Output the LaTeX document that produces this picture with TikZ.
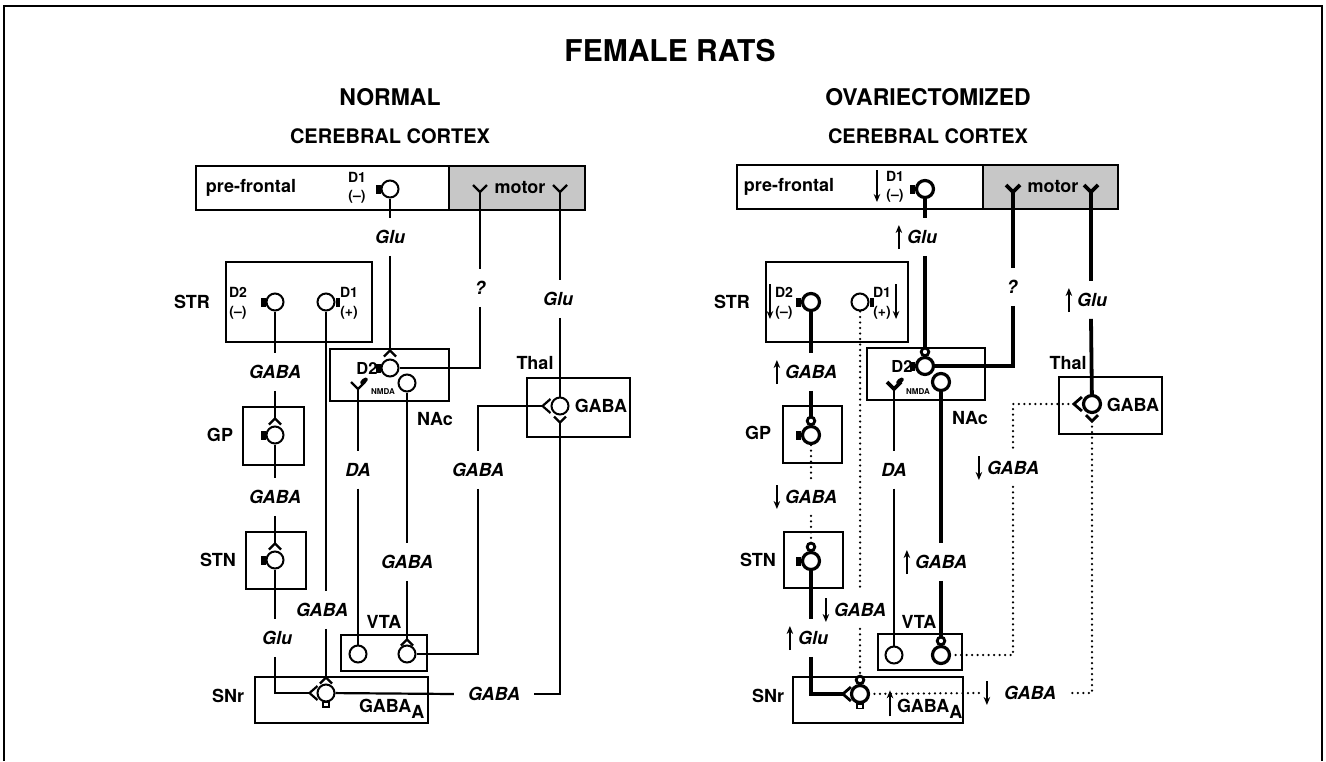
\documentclass[tikz,border=0pt]{standalone}
\usepackage{fontspec}
\setmainfont{TeX Gyre Heros}
\usetikzlibrary{arrows.meta}
% little glyphs drawn round the cell bodies
\newcommand\capl[1]{\fill ([shift={(-4.5pt,-4.5pt)}]#1.west) rectangle ([shift={(0pt,4.5pt)}]#1.west);}
\newcommand\capr[1]{\fill ([shift={(0pt,-4.5pt)}]#1.east) rectangle ([shift={(4.5pt,4.5pt)}]#1.east);}
\newcommand\tipup[2][]{\draw[#1] ([shift={(-6pt,-6pt)}]#2) -- (#2) -- ([shift={(6pt,-6pt)}]#2);}
\newcommand\tipdn[2][]{\draw[#1] ([shift={(-6pt,6pt)}]#2) -- (#2) -- ([shift={(6pt,6pt)}]#2);}
\newcommand\tipl[2][]{\draw[#1] ([shift={(8pt,7pt)}]#2) -- (#2) -- ([shift={(8pt,-7pt)}]#2);}
\newcommand\yterm[2][]{\draw[#1] ([shift={(-7pt,7pt)}]#2) -- (#2) -- ([shift={(7pt,7pt)}]#2);}
\newcommand\knob[1]{\draw[line width=2.8pt] ([yshift=4pt]#1.north) circle (3.8pt);}
\newcommand\foot[1]{\draw[line width=1.6pt] ([shift={(-3pt,0pt)}]#1.south) rectangle ([shift={(3pt,-4.5pt)}]#1.south);}
\newcommand\upmark[1]{\draw[chg] ([shift={(-6pt,-12pt)}]#1.west) -- ([shift={(-6pt,12pt)}]#1.west);}
\newcommand\dnmark[1]{\draw[chg] ([shift={(-6pt,12pt)}]#1.west) -- ([shift={(-6pt,-12pt)}]#1.west);}
\begin{document}
\begin{tikzpicture}[x=1pt,y=-1pt,line width=2.2pt,
  cell/.style={circle,draw,minimum size=17pt,inner sep=0pt,line width=2pt},
  fatcell/.style={cell,line width=3.2pt},
  fat/.style={line width=3.8pt},
  dots/.style={line width=2.5pt,line cap=round,dash pattern=on 0pt off 5.5pt},
  box/.style={draw,line width=2.2pt},
  ttl/.style={font=\fontsize{30}{34}\selectfont\bfseries},
  hd/.style={font=\fontsize{23}{26}\selectfont\bfseries},
  sub/.style={font=\fontsize{20}{22}\selectfont\bfseries},
  reg/.style={font=\fontsize{18}{20}\selectfont\bfseries,inner sep=1pt},
  rc/.style={font=\fontsize{14}{15}\selectfont\bfseries,inner sep=0pt},
  tx/.style={font=\fontsize{18}{20}\selectfont\bfseries\itshape,inner xsep=1pt,inner ysep=11pt},
  chg/.style={line width=1.8pt,-{Stealth[length=8pt,width=6.5pt]}}]
\useasboundingbox (0,0) rectangle (1326,761);
\draw[line width=1.5pt] (4,761) -- (4,6) -- (1322,6) -- (1322,761);
\node[ttl,anchor=base] (title) at (670,61) {FEMALE RATS};
\node[hd,anchor=base] (lhead) at (390,105) {NORMAL};
\node[hd,anchor=base] (rhead) at (928,105) {OVARIECTOMIZED};
\node[sub,anchor=base] (lcc) at (390,143) {CEREBRAL CORTEX};
\node[sub,anchor=base] (rcc) at (928,143) {CEREBRAL CORTEX};

%%%%%%%%%% normal
\draw[box,fill=black!22] (449,166) rectangle (585,210);
\draw[box] (196,166) rectangle (449,210);
\node[reg] (lpfl) at (251,188) {pre-frontal};
\node[reg] (lmol) at (520,188) {motor};
\node[rc] at (357,177) {D1}; \node[rc] at (357,197) {(--)};
\node[cell] (lpf) at (390,189) {}; \capl{lpf}
\coordinate (lmo1) at (480,192); \yterm{lmo1}
\coordinate (lmo2) at (560,192); \yterm{lmo2}
% STR
\draw[box] (226,262) rectangle (372,342);
\node[reg] at (192,302) {STR};
\node[rc] at (238,292) {D2}; \node[rc] at (238,313) {(--)};
\node[cell] (ld2) at (275,302) {}; \capl{ld2}
\node[cell] (ld1) at (326,302) {}; \capr{ld1}
\node[rc] at (349,292) {D1}; \node[rc] at (349,313) {(+)};
% NAc
\draw[box] (330,349) rectangle (449,401);
\node[reg] at (435,419) {NAc};
\node[reg,font=\fontsize{16.5}{18}\selectfont\bfseries] at (367,368) {D2};
\node[cell] (lnd2) at (390,368) {}; \capl{lnd2}
\coordinate (lnd2in) at ([yshift=8pt]lnd2.north); \tipup{lnd2in}
\coordinate (lnda) at (358,389); \yterm{lnda}
\fill[rotate around={40:(364,381)}] (364,381) ellipse (4.5pt and 2.5pt);
\node[font=\fontsize{8}{9}\selectfont\bfseries] at (383,392) {NMDA};
\node[cell] (lnac) at (407,383) {};
% GP, STN
\draw[box] (243,407) rectangle (304,465);
\node[reg] at (220,435) {GP};
\node[cell] (lgp) at (275,435) {}; \capl{lgp}
\coordinate (lgpin) at ([yshift=7pt]lgp.north); \tipup{lgpin}
\draw[box] (246,532) rectangle (306,589);
\node[reg] at (218,560) {STN};
\node[cell] (lstn) at (275,560) {}; \capl{lstn}
\coordinate (lstnin) at ([yshift=7pt]lstn.north); \tipup{lstnin}
% Thal
\node[reg] at (535,363) {Thal};
\draw[box] (527,378) rectangle (630,437);
\node[cell] (lth) at (560,406) {};
\node[reg] at (601,406) {GABA};
\coordinate (lthl) at ([xshift=-8pt]lth.west); \tipl{lthl}
\coordinate (lthd) at ([yshift=-7pt]lth.south); \tipdn{lthd}
% VTA, SNr
\node[reg] at (384,622) {VTA};
\draw[box] (341,635) rectangle (427,671);
\node[cell] (lva) at (358,654) {};
\node[cell] (lvb) at (407,654) {};
\coordinate (lvbin) at ([yshift=5pt]lvb.north); \tipup{lvbin}
\node[reg] at (228,696) {SNr};
\draw[box] (255,677) rectangle (428,723);
\node[cell] (lsn) at (326,693) {}; \foot{lsn}
\coordinate (lsnl) at ([xshift=-7pt]lsn.west); \tipl{lsnl}
\coordinate (lsnin) at ([yshift=6pt]lsn.north); \tipup{lsnin}
\node[reg,anchor=base west] at (357,712) {GABA\raisebox{-6pt}{A}};
% paths
\node[tx] (lglu1) at (390,237) {Glu};
\draw (lpf) -- (lpf |- lglu1.north); \draw (lpf |- lglu1.south) -- (lnd2in);
\node[tx] (lq) at (480,288) {?};
\draw (lmo1) -- (lmo1 |- lq.north); \draw (lmo1 |- lq.south) |- (lnd2);
\node[tx] (lglu2) at (558,299) {Glu};
\draw (lmo2) -- (lmo2 |- lglu2.north); \draw (lmo2 |- lglu2.south) -- (lth);
\node[tx] (lg1) at (275,372) {GABA};
\draw (ld2) -- (ld2 |- lg1.north); \draw (ld2 |- lg1.south) -- (lgpin);
\node[tx] (lg2) at (275,497) {GABA};
\draw (lgp) -- (lgp |- lg2.north); \draw (lgp |- lg2.south) -- (lstnin);
\node[tx] (lglu3) at (277,638) {Glu};
\draw (lstn) -- (lstn |- lglu3.north); \draw (lstn |- lglu3.south) |- (lsnl);
\node[tx] (lg3) at (322,610) {GABA};
\draw (ld1) -- (ld1 |- lg3.north); \draw (ld1 |- lg3.south) -- (lsnin);
\node[tx] (lda) at (358,470) {DA};
\draw (lnda) -- (lnda |- lda.north); \draw (lnda |- lda.south) -- (lva);
\node[tx] (lg4) at (407,562) {GABA};
\draw (lnac) -- (lnac |- lg4.north); \draw (lnac |- lg4.south) -- (lvbin);
\node[tx] (lg5) at (478,470) {GABA};
\draw (lthl) -| (lg5.north); \draw (lg5.south) |- (lvb);
\node[tx,inner xsep=13pt] (lg6) at (494,694) {GABA};
\draw (lthd) |- (lg6.east); \draw (lg6.west) -- (lsn);

%%%%%%%%%% ovariectomized
\draw[box,fill=black!22] (983,165) rectangle (1118,209);
\draw[box] (737,165) rectangle (983,209);
\node[reg] (rpfl) at (789,187) {pre-frontal};
\node[reg] (rmol) at (1053,187) {motor};
\node[rc] (rd1c) at (895,176) {D1}; \node[rc] at (895,196) {(--)};
\draw[chg] ([shift={(-8pt,6pt)}]rd1c.west) -- ([shift={(-8pt,-26pt)}]rd1c.west);
\node[fatcell] (rpf) at (925,189) {}; \capl{rpf}
\coordinate (rmo1) at (1013,192); \yterm[fat]{rmo1}
\coordinate (rmo2) at (1091,192); \yterm[fat]{rmo2}
% STR
\draw[box] (766,262) rectangle (908,342);
\node[reg] at (732,302) {STR};
\node[rc] (rd2l) at (784,292) {D2}; \node[rc] at (784,313) {(--)};
\draw[chg] ([shift={(-4pt,8pt)}]rd2l.west) -- ([shift={(-4pt,-27pt)}]rd2l.west);
\node[fatcell] (rd2) at (811,302) {}; \capl{rd2}
\node[cell] (rd1) at (860,302) {}; \capr{rd1}
\node[rc] (rd1l) at (882,292) {D1}; \node[rc] at (882,313) {(+)};
\draw[chg] ([shift={(4pt,8pt)}]rd1l.east) -- ([shift={(4pt,-27pt)}]rd1l.east);
% NAc
\draw[box] (867,348) rectangle (985,400);
\node[reg] at (970,418) {NAc};
\node[reg,font=\fontsize{16.5}{18}\selectfont\bfseries] at (902,366) {D2};
\node[fatcell] (rnd2) at (925,366) {}; \capl{rnd2} \knob{rnd2}
\coordinate (rnd2in) at ([yshift=8pt]rnd2.north);
\coordinate (rnda) at (894,389); \yterm[fat]{rnda}
\fill[rotate around={40:(900,381)}] (900,381) ellipse (4.5pt and 2.5pt);
\node[font=\fontsize{8}{9}\selectfont\bfseries] at (918,392) {NMDA};
\node[fatcell] (rnac) at (941,382) {};
% GP, STN
\draw[box] (783,406) rectangle (842,463);
\node[reg] at (758,433) {GP};
\node[fatcell] (rgp) at (811,435) {}; \capl{rgp} \knob{rgp}
\coordinate (rgpin) at ([yshift=8pt]rgp.north);
\draw[box] (784,532) rectangle (843,588);
\node[reg] at (758,560) {STN};
\node[fatcell] (rstn) at (811,561) {}; \capl{rstn} \knob{rstn}
\coordinate (rstnin) at ([yshift=8pt]rstn.north);
% Thal
\node[reg] at (1068,363) {Thal};
\draw[box] (1059,377) rectangle (1162,434);
\node[fatcell] (rth) at (1092,404) {};
\node[reg] at (1133,405) {GABA};
\coordinate (rthl) at ([xshift=-8pt]rth.west); \tipl[line width=2.8pt]{rthl}
\coordinate (rthd) at ([yshift=-7pt]rth.south); \tipdn[line width=2.8pt]{rthd}
% VTA, SNr
\node[reg] at (919,622) {VTA};
\draw[box] (878,634) rectangle (962,670);
\node[cell] (rva) at (894,655) {};
\node[fatcell] (rvb) at (941,655) {}; \knob{rvb}
\coordinate (rvbin) at ([yshift=8pt]rvb.north);
\node[reg] at (768,696) {SNr};
\draw[box] (793,677) rectangle (963,723);
\node[fatcell] (rsn) at (860,694) {}; \foot{rsn} \knob{rsn}
\coordinate (rsnl) at ([xshift=-7pt]rsn.west); \tipl[line width=2.8pt]{rsnl}
\coordinate (rsnin) at ([yshift=8pt]rsn.north);
\node[reg,anchor=base west] (rgaba) at (895,712) {GABA\raisebox{-6pt}{A}};
\draw[chg] ([shift={(-5pt,-8pt)}]rgaba.west) -- ([shift={(-5pt,18pt)}]rgaba.west);
% paths
\node[tx] (rglu1) at (922,237) {Glu}; \upmark{rglu1}
\draw[fat] (rpf) -- (rpf |- rglu1.north); \draw[fat] (rpf |- rglu1.south) -- (rnd2in);
\node[tx] (rq) at (1012,287) {?};
\draw[fat] (rmo1) -- (rmo1 |- rq.north); \draw[fat] (rmo1 |- rq.south) |- (rnd2);
\node[tx] (rglu2) at (1092,300) {Glu}; \upmark{rglu2}
\draw[fat] (rmo2) -- (rmo2 |- rglu2.north); \draw[fat] (rmo2 |- rglu2.south) -- (rth);
\node[tx] (rg1) at (811,372) {GABA}; \upmark{rg1}
\draw[fat] (rd2) -- (rd2 |- rg1.north); \draw[fat] (rd2 |- rg1.south) -- (rgpin);
\node[tx] (rg2) at (811,497) {GABA}; \dnmark{rg2}
\draw[dots] (rgp) -- (rgp |- rg2.north); \draw[dots] (rgp |- rg2.south) -- (rstnin);
\node[tx] (rglu3) at (813,638) {Glu}; \upmark{rglu3}
\draw[fat] (rstn) -- (rstn |- rglu3.north); \draw[fat] (rstn |- rglu3.south) |- (rsnl);
\node[tx] (rg3) at (860,610) {GABA}; \dnmark{rg3}
\draw[dots] (rd1) -- (rd1 |- rg3.north); \draw[dots] (rd1 |- rg3.south) -- (rsnin);
\node[tx] (rda) at (894,470) {DA};
\draw (rnda) -- (rnda |- rda.north); \draw (rnda |- rda.south) -- (rva);
\node[tx] (rg4) at (941,562) {GABA}; \upmark{rg4}
\draw[fat] (rnac) -- (rnac |- rg4.north); \draw[fat] (rnac |- rg4.south) -- (rvbin);
\node[tx] (rg5) at (1013,468) {GABA}; \dnmark{rg5}
\draw[dots] (rthl) -| (rg5.north); \draw[dots] (rg5.south) |- (rvb);
\node[tx,inner xsep=10pt] (rg6) at (1030,693) {GABA}; \dnmark{rg6}
\draw[dots] (rthd) |- (rg6.east); \draw[dots] ([xshift=-14pt]rg6.west) -- (rsn);
\end{tikzpicture}
\end{document}
